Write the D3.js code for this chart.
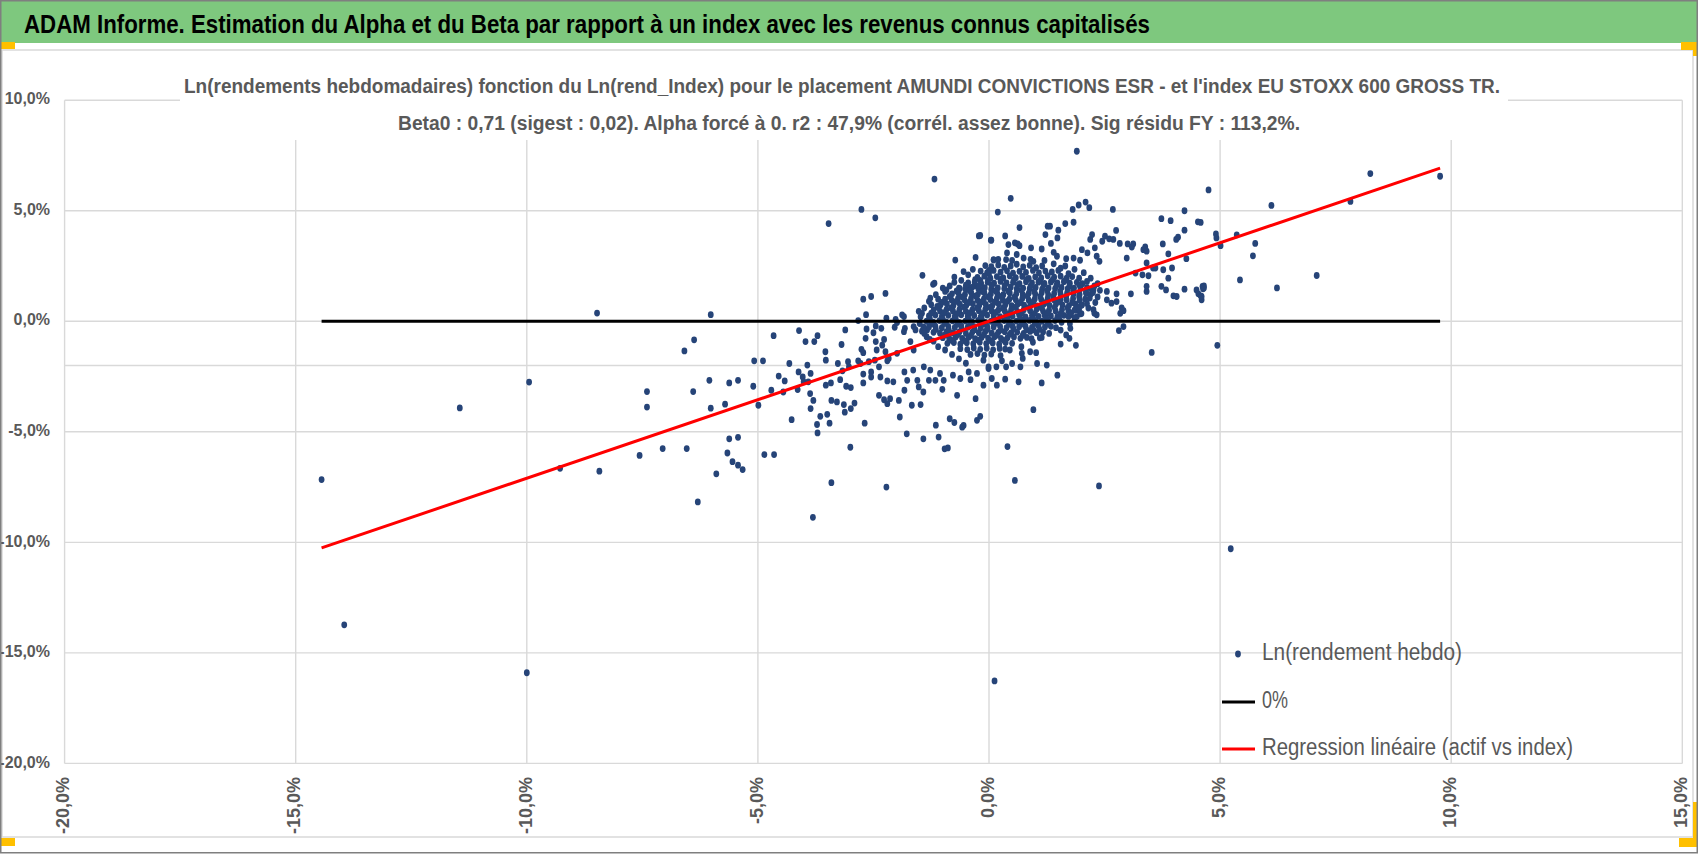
<!DOCTYPE html>
<html>
<head>
<meta charset="utf-8">
<script src="https://cdn.jsdelivr.net/npm/d3@7"></script>
<style>
  body { margin: 0; background: #fff; }
  svg { display: block; }
</style>
</head>
<body>
<svg id="chart" width="1698" height="855"></svg>
<script>
// ---- data (percent units) ----
const headerTitle = "ADAM Informe. Estimation du Alpha et du Beta par rapport à un index avec les revenus connus capitalisés";
const chartTitleLines = [
  "Ln(rendements hebdomadaires) fonction du Ln(rend_Index) pour le placement AMUNDI CONVICTIONS ESR -  et l'index EU STOXX 600 GROSS TR.",
  "Beta0 : 0,71 (sigest : 0,02). Alpha forcé à 0. r2 : 47,9% (corrél. assez bonne). Sig résidu FY : 113,2%."
];
const xTicks = [-20, -15, -10, -5, 0, 5, 10, 15];
const yTicks = [10, 5, 0, -5, -10, -15, -20];
const beta0 = 0.71;
const xAxisCrossing = -2;
const legendLabels = ["Ln(rendement hebdo)", "0%", "Regression linéaire (actif vs index)"];

// scattered weeks, read point by point
const tailPoints = [
  [-14.44,-7.16],[-13.95,-13.73],[-11.45,-3.92],[-9.95,-2.75],[-10.0,-15.9],[-9.28,-6.65],[-8.43,-6.78],[-8.48,0.37],
  [-6.02,0.30],[-6.38,-0.84],[-6.59,-1.34],[-6.05,-2.67],[-5.62,-2.79],[-5.43,-2.67],[-7.4,-3.18],[-7.4,-3.88],
  [-6.4,-3.18],[-6.02,-3.93],[-5.71,-3.75],[-7.56,-6.07],[-7.06,-5.76],[-6.54,-5.76],[-5.62,-5.32],[-5.43,-5.25],
  [-5.66,-5.96],[-5.55,-6.35],[-5.43,-6.51],[-5.33,-6.71],[-5.9,-6.9],[-6.3,-8.17],
  [-4.86,-6.03],[-4.65,-6.03],[-3.81,-8.87],[-3.41,-7.3],[-2.22,-7.5],[0.56,-7.2],[2.38,-7.45],[0.12,-16.27],[5.23,-10.29],
  [-3.47,4.42],[-2.76,5.06],[-2.46,4.68],[0.19,4.94],[-0.22,3.86],[0.04,3.67],[-0.73,2.77],[-0.29,2.89],[0.1,2.77],
  [0.0,2.3],[0.0,2.15],[-1.44,2.08],[-1.21,1.67],[-1.18,1.72],[-0.92,1.42],[-0.75,1.76],[-0.63,1.48],[-0.47,1.58],
  [-0.32,1.6],[-0.19,1.85],[-0.13,1.45],[-2.72,1.0],[-2.55,1.12],[-2.24,1.26],[-1.27,1.05],[-1.12,0.67],
  [-2.33,-0.32],[-2.04,-0.27],[-1.82,-0.32],[-1.63,-0.24],
  [0.47,5.56],[1.81,5.06],[1.94,5.26],[2.09,5.39],[2.17,5.14],[2.68,5.06],[4.75,5.94],[4.23,5.0],[3.73,4.64],
  [3.93,4.55],[4.52,4.5],[4.23,4.12],[4.05,3.7],[4.09,3.8],[4.91,3.95],[4.92,3.77],[5.01,3.42],[3.76,3.5],[3.88,3.05],
  [4.27,2.83],[3.96,2.41],[3.77,2.33],[3.6,2.41],[3.88,1.95],[3.73,1.58],[3.83,1.42],[3.99,1.15],[4.06,1.12],[4.23,1.45],
  [4.49,1.42],[4.62,1.58],[4.63,1.47],[4.58,1.15],[4.6,0.97],[4.53,1.24],[3.38,3.36],[3.41,3.17],[3.34,3.24],[3.12,3.5],
  [3.0,3.5],[3.09,3.36],[2.83,3.52],[2.75,4.11],[2.98,2.86],[3.17,2.18],[3.41,2.64],[3.32,2.1],[3.45,2.06],[3.55,2.41],
  [3.07,1.24],[3.41,1.58],[3.41,1.35],[2.76,1.24],[2.55,1.35],[2.26,1.42],[2.51,3.85],[2.6,3.73],[2.69,3.7],[2.45,3.62],
  [2.23,3.92],[2.19,3.7],[2.01,3.24],[2.13,3.09],[2.29,3.32],[2.33,2.94],[2.39,2.71],[1.97,2.76],[1.83,2.86],[1.67,2.83],
  [1.48,3.77],[1.32,4.3],[1.27,4.3],[1.5,4.12],[1.65,4.42],[1.83,4.48],[0.66,4.24],[0.35,3.86],[0.56,3.55],[0.62,3.5],
  [0.66,3.42],[0.42,3.47],[0.05,3.67],[-0.19,3.88],[0.1,2.79],[0.39,3.09],[0.37,2.79],[0.6,3.02],[0.91,3.32],[1.14,3.27],
  [1.22,3.92],[1.34,3.52],[1.4,3.12],[1.47,2.94],[0.96,2.71],[0.75,2.86],[2.87,0.61],[2.91,0.48],[2.76,0.89],[2.65,0.82],
  [2.55,0.97],[2.33,0.29],[2.26,0.52],[2.01,0.74],[1.9,0.52],[1.76,0.29],
  [-4.66,-0.65],[-4.11,-0.42],[-3.97,-0.92],[-3.78,-0.92],[-3.71,-0.65],[-5.08,-1.79],[-4.89,-1.79],[-5.1,-2.94],[-4.99,-3.8],
  [-4.71,-3.12],[-4.55,-2.48],[-4.42,-2.7],[-4.32,-1.91],[-4.27,-4.45],[-4.45,-3.2],[-4.14,-3.09],[-4.12,-2.29],[-4.03,-2.52],
  [-4.01,-2.74],[-3.93,-1.98],[-3.91,-2.74],[-3.86,-2.36],[-3.87,-3.27],[-3.8,-3.58],[-3.86,-3.95],[-3.65,-4.3],[-3.72,-4.67],
  [-3.71,-5.05],[-3.54,-1.38],[-3.53,-1.76],[-3.53,-2.89],[-3.42,-2.79],[-3.41,-3.58],[-3.5,-4.21],[-3.45,-4.61],[-3.29,-3.65],
  [-3.27,-1.91],[-3.19,-1.05],[-3.17,-2.24],[-3.22,-2.64],[-3.14,-3.77],[-3.12,-4.11],[-3.11,-0.39],[-3.05,-1.83],[-3.03,-2.06],
  [-3.09,-2.94],[-2.99,-3.0],[-2.99,-3.95],[-2.91,-3.7],[-3.0,-5.7],[-2.83,0.03],[-2.66,0.3],[-2.65,-0.35],[-2.67,-0.77],
  [-2.76,-1.27],[-2.72,-1.42],[-2.83,-1.79],[-2.78,-1.91],[-2.72,-2.39],[-2.69,-4.61],[-2.72,-2.79],[-2.6,-1.83],[-2.55,-2.29],
  [-2.55,-2.52],[-2.5,-0.52],[-2.45,-0.21],[-2.45,-0.92],[-2.43,-1.3],[-2.47,-1.76],[-2.38,-2.06],[-2.38,-3.35],[-2.35,-2.52],
  [-2.31,-1.08],[-2.27,-0.82],[-2.22,0.14],[-2.24,-1.38],[-2.2,-1.79],[-2.2,-2.7],[-2.27,-3.55],[-2.14,-3.5],[-2.2,-3.73],
  [-2.17,-1.68],[-2.07,-2.74],[-2.02,0.09],[-1.99,-0.06],[-1.99,-1.45],[-1.95,-3.58],[-1.93,-4.33],[-1.88,0.29],[-1.84,0.21],
  [-1.84,-0.47],[-1.83,-2.29],[-1.83,-3.12],[-1.77,-2.67],[-1.78,-5.09],[-1.7,-0.92],[-1.67,-3.8],[-1.64,-2.21],[-1.63,-1.3],
  [-1.59,-0.39],[-1.55,-2.67],[-1.52,-2.97],[-1.48,-3.77],[-1.45,0.36],[-1.42,-5.32],[-1.42,-3.2],[-1.41,-2.06],[-1.34,-0.39],
  [-1.3,-2.67],[-1.27,-2.21],[-1.16,-2.67],[-1.15,-4.7],[-1.09,-5.24],[-1.06,-2.36],[-1.01,-3.08],[-0.98,-2.67],[-0.96,-5.77],
  [-0.89,-5.73],[-0.85,-4.41],[-0.78,-2.44],[-0.75,-4.58],[-0.69,-3.35],[-0.62,-2.59],[-0.58,-4.79],[-0.55,-4.71],[-0.44,-2.29],
  [-0.4,-2.64],[-0.29,-3.5],[-0.26,-2.36],[-0.26,-4.48],[-0.19,-4.3],[-0.12,-2.89],[0.06,-2.59],[0.17,-2.89],[-0.01,-2.06],[-0.12,-1.76],
  [0.35,-2.62],[0.4,-5.67],[0.64,-2.74],[0.96,-4.0],[1.14,-2.79],[1.48,-2.44],[1.25,-1.98],[1.04,-1.91],[0.68,-2.06],[0.5,-1.91],
  [0.37,-2.06],[0.16,-2.06],[-0.01,-2.14],[0.28,-1.79],[0.73,-1.68],[0.71,-1.45],[0.89,-1.38],[1.02,-1.42],[1.55,-1.03],[1.88,-1.09],
  [1.74,-0.77],[1.67,-0.62],[1.76,-0.32],[1.14,-0.73],[0.96,-0.39],[2.81,-0.42],[2.91,-0.24],[2.84,0.36],[2.89,0.48],[3.52,-1.41],
  [4.94,-1.09],[2.28,0.36],[1.97,0.33],[1.9,0.21],
  [6.11,5.24],[7.82,5.42],[8.25,6.68],[9.76,6.56],[4.58,4.47],[5.36,3.91],[5.76,3.52],[5.71,2.96],[5.43,1.87],[6.23,1.51],
  [7.09,2.07],[4.65,1.6],[4.65,1.5],[4.6,1.12],[-1.18,6.43],[1.9,7.69]
];

// dense centre of the cloud, placed row by row (too packed to read one by one)
const corePoints = [
  [-0.08,2.52],[0.05,2.47],[0.2,2.55],[0.33,2.44],[0.47,2.5],[0.6,2.58],[0.74,2.46],[0.88,2.53],[1.02,2.42],[1.15,2.5],
  [-0.18,2.27],[-0.04,2.2],[0.1,2.3],[0.25,2.22],[0.39,2.28],[0.52,2.18],[0.66,2.26],[0.8,2.21],[0.95,2.3],[1.08,2.19],[1.22,2.27],[1.36,2.23],[1.5,2.3],
  [-0.25,1.98],[-0.1,2.04],[0.03,1.95],[0.17,2.02],[0.31,1.96],[0.45,2.05],[0.58,1.97],[0.72,2.03],[0.86,1.94],[1.0,2.01],[1.13,1.96],[1.27,2.06],[1.41,1.99],[1.55,2.04],[1.68,1.95],[1.8,2.02],
  [-0.45,1.74],[-0.31,1.78],[-0.17,1.71],[-0.03,1.77],[0.11,1.72],[0.25,1.8],[0.38,1.73],[0.52,1.76],[0.66,1.7],[0.8,1.79],[0.93,1.74],[1.07,1.77],[1.2,1.71],[1.34,1.78],[1.48,1.73],[1.62,1.79],[1.75,1.72],[1.9,1.76],[2.02,1.7],
  [-0.65,1.5],[-0.51,1.46],[-0.37,1.53],[-0.23,1.47],[-0.09,1.52],[0.05,1.45],[0.19,1.51],[0.33,1.48],[0.47,1.54],[0.6,1.46],[0.74,1.5],[0.88,1.47],[1.01,1.53],[1.15,1.45],[1.29,1.51],[1.43,1.48],[1.57,1.53],[1.7,1.46],[1.84,1.5],[1.98,1.47],[2.12,1.52],[2.22,1.45],
  [-0.8,1.24],[-0.66,1.28],[-0.52,1.21],[-0.38,1.27],[-0.24,1.22],[-0.1,1.29],[0.04,1.23],[0.18,1.26],[0.31,1.2],[0.45,1.28],[0.59,1.24],[0.73,1.21],[0.86,1.27],[1.0,1.23],[1.14,1.29],[1.28,1.2],[1.41,1.26],[1.55,1.22],[1.69,1.28],[1.83,1.24],[1.96,1.21],[2.1,1.27],[2.2,1.22],
  [-0.95,1.0],[-0.81,0.96],[-0.67,1.03],[-0.53,0.97],[-0.39,1.02],[-0.25,0.95],[-0.11,1.01],[0.03,0.98],[0.17,1.04],[0.3,0.96],[0.44,1.0],[0.58,0.97],[0.72,1.03],[0.86,0.95],[0.99,1.01],[1.13,0.98],[1.27,1.04],[1.41,0.96],[1.55,1.0],[1.68,0.97],[1.82,1.03],[1.96,0.95],[2.08,1.0],
  [-1.05,0.74],[-0.91,0.78],[-0.77,0.71],[-0.63,0.77],[-0.49,0.72],[-0.35,0.79],[-0.21,0.73],[-0.07,0.76],[0.07,0.7],[0.21,0.78],[0.35,0.74],[0.49,0.71],[0.62,0.77],[0.76,0.73],[0.9,0.79],[1.04,0.7],[1.18,0.76],[1.31,0.72],[1.45,0.78],[1.59,0.74],[1.73,0.71],[1.87,0.77],[2.0,0.73],
  [-1.2,0.5],[-1.06,0.46],[-0.92,0.53],[-0.78,0.47],[-0.64,0.52],[-0.5,0.45],[-0.36,0.51],[-0.22,0.48],[-0.08,0.54],[0.06,0.46],[0.2,0.5],[0.34,0.47],[0.48,0.53],[0.61,0.45],[0.75,0.51],[0.89,0.48],[1.03,0.54],[1.17,0.46],[1.3,0.5],[1.44,0.47],[1.58,0.53],[1.72,0.45],[1.85,0.5],
  [-1.3,0.24],[-1.16,0.28],[-1.02,0.21],[-0.88,0.27],[-0.74,0.22],[-0.6,0.29],[-0.46,0.23],[-0.32,0.26],[-0.18,0.2],[-0.04,0.28],[0.1,0.24],[0.24,0.21],[0.37,0.27],[0.51,0.23],[0.65,0.29],[0.79,0.2],[0.93,0.26],[1.07,0.22],[1.2,0.28],[1.34,0.24],[1.48,0.21],[1.62,0.27],[1.72,0.22],
  [-1.35,0.0],[-1.21,-0.04],[-1.07,0.03],[-0.93,-0.03],[-0.79,0.02],[-0.65,-0.05],[-0.51,0.01],[-0.37,-0.02],[-0.23,0.04],[-0.09,-0.04],[0.05,0.0],[0.19,-0.03],[0.33,0.03],[0.46,-0.05],[0.6,0.01],[0.74,-0.02],[0.88,0.04],[1.02,-0.04],[1.15,0.0],[1.29,-0.03],[1.43,0.03],[1.57,-0.05],
  [-1.3,-0.26],[-1.16,-0.22],[-1.02,-0.29],[-0.88,-0.23],[-0.74,-0.28],[-0.6,-0.21],[-0.46,-0.27],[-0.32,-0.24],[-0.18,-0.3],[-0.04,-0.22],[0.1,-0.26],[0.24,-0.23],[0.38,-0.29],[0.51,-0.21],[0.65,-0.25],[0.79,-0.22],[0.93,-0.28],[1.07,-0.2],[1.21,-0.26],[1.34,-0.23],[1.45,-0.29],
  [-1.2,-0.5],[-1.06,-0.54],[-0.92,-0.47],[-0.78,-0.53],[-0.64,-0.48],[-0.5,-0.55],[-0.36,-0.49],[-0.22,-0.52],[-0.08,-0.46],[0.06,-0.54],[0.2,-0.5],[0.34,-0.47],[0.48,-0.53],[0.61,-0.49],[0.75,-0.55],[0.89,-0.46],[1.03,-0.52],[1.17,-0.48],
  [-1.0,-0.74],[-0.86,-0.78],[-0.72,-0.71],[-0.58,-0.77],[-0.44,-0.72],[-0.3,-0.79],[-0.16,-0.73],[-0.02,-0.76],[0.12,-0.7],[0.26,-0.78],[0.4,-0.74],[0.54,-0.71],[0.68,-0.77],[0.82,-0.73],[0.92,-0.79],
  [-0.9,-1.0],[-0.76,-0.96],[-0.62,-1.03],[-0.48,-0.97],[-0.34,-1.02],[-0.2,-0.95],[-0.06,-1.01],[0.08,-0.98],[0.22,-1.04],[0.36,-0.96],[0.5,-1.0],
  [-0.62,-1.24],[-0.47,-1.28],[-0.33,-1.21],[-0.19,-1.27],[-0.05,-1.22],[0.09,-1.29],[0.23,-1.23],[0.35,-1.26],
  [-0.4,-1.5],[-0.25,-1.46],[-0.1,-1.53],[0.05,-1.48],
  [-1.4,0.6],[-1.3,0.9],[-1.15,1.2],[-0.95,1.35],[-0.85,1.6],[-0.6,1.85],[-0.45,2.1],[-0.35,2.35],[-1.5,-0.1],[-1.45,-0.45],
  [-1.35,-0.7],[-1.2,-0.9],[-1.1,-1.15],[-0.95,-1.3],[-0.8,-1.5],[-0.65,-1.7],[-0.5,-1.9],[0.25,-1.55],[0.45,-1.3],[0.7,-1.15],
  [0.95,-0.95],[1.1,-0.75],[1.3,-0.55],[1.55,-0.4],[1.75,-0.1],[1.85,0.15],[2.0,0.35],[2.15,0.6],[2.3,0.85],[2.35,1.1],
  [2.4,1.4],[2.35,1.7],[2.2,1.95],[2.05,2.2],[1.85,2.35],[1.65,2.5],[1.4,2.6],[1.2,2.75],[0.9,2.8],[0.5,2.75],[0.2,2.8]
];

// second, staggered pass over the packed middle so it reads as a solid blob
const coreFillPoints = [
  [-0.3,1.88],[-0.02,1.85],[0.26,1.9],[0.54,1.86],[0.82,1.89],[1.1,1.84],[1.38,1.88],[1.66,1.86],
  [-0.5,1.63],[-0.22,1.6],[0.06,1.64],[0.34,1.61],[0.62,1.63],[0.9,1.59],[1.18,1.64],[1.46,1.62],[1.74,1.6],[1.96,1.63],
  [-0.7,1.37],[-0.42,1.39],[-0.14,1.35],[0.14,1.38],[0.42,1.36],[0.7,1.4],[0.98,1.35],[1.26,1.38],[1.54,1.36],[1.82,1.39],[2.1,1.35],
  [-0.85,1.12],[-0.57,1.1],[-0.29,1.14],[-0.01,1.11],[0.27,1.13],[0.55,1.09],[0.83,1.14],[1.11,1.12],[1.39,1.1],[1.67,1.13],[1.95,1.11],
  [-1.0,0.87],[-0.72,0.89],[-0.44,0.85],[-0.16,0.88],[0.12,0.86],[0.4,0.9],[0.68,0.85],[0.96,0.88],[1.24,0.86],[1.52,0.89],[1.8,0.85],
  [-1.1,0.62],[-0.82,0.6],[-0.54,0.64],[-0.26,0.61],[0.02,0.63],[0.3,0.59],[0.58,0.64],[0.86,0.62],[1.14,0.6],[1.42,0.63],[1.7,0.61],[1.92,0.64],
  [-1.25,0.37],[-0.97,0.39],[-0.69,0.35],[-0.41,0.38],[-0.13,0.36],[0.15,0.4],[0.43,0.35],[0.71,0.38],[0.99,0.36],[1.27,0.39],[1.55,0.35],
  [-1.28,0.12],[-1.0,0.1],[-0.72,0.14],[-0.44,0.11],[-0.16,0.13],[0.12,0.09],[0.4,0.14],[0.68,0.12],[0.96,0.1],[1.24,0.13],[1.52,0.11],
  [-1.25,-0.12],[-0.97,-0.1],[-0.69,-0.14],[-0.41,-0.11],[-0.13,-0.13],[0.15,-0.09],[0.43,-0.14],[0.71,-0.12],[0.99,-0.1],[1.27,-0.13],
  [-1.15,-0.37],[-0.87,-0.39],[-0.59,-0.35],[-0.31,-0.38],[-0.03,-0.36],[0.25,-0.4],[0.53,-0.35],[0.81,-0.38],[1.09,-0.36],
  [-0.95,-0.62],[-0.67,-0.6],[-0.39,-0.64],[-0.11,-0.61],[0.17,-0.63],[0.45,-0.59],[0.73,-0.64],
  [-0.8,-0.87],[-0.52,-0.89],[-0.24,-0.85],[0.04,-0.88],[0.32,-0.86],
  [1.78,0.38],[1.95,0.55],[2.12,0.8],[2.18,1.05],[2.25,1.3],[2.28,1.6],[2.12,1.8],[1.95,1.95],[1.72,2.15],[1.55,2.4],
  [-1.48,0.2],[-1.52,0.45],[-1.42,-0.25],[-1.4,-0.55],[-1.28,-0.82],[-1.25,0.75],[-1.1,1.0],[-1.0,1.5],[-0.75,2.0],[-0.55,2.25]
];

const weeklyPoints = tailPoints.concat(corePoints, coreFillPoints);

// ---- drawing ----
const W = 1698, H = 855;
const fontNarrow = '"Liberation Sans Narrow", "Liberation Sans", Arial, sans-serif';
const grey = "#595959";
const dotColor = "#264478";

const fr = d3.formatLocale({decimal: ",", thousands: " ", grouping: [3], currency: ["", " €"], minus: "-"});
const pct = d => fr.format(".1f")(d) + "%";

let x = d3.scaleLinear().domain([-20, 15]).range([64.6, 1682.3]);
let y = d3.scaleLinear().domain([-20, 10]).range([763.4, 100.2]);

let svg = d3.select("#chart");

// header band
svg.append("rect").attr("x", 0).attr("y", 0).attr("width", W).attr("height", 43).attr("fill", "#7ec87e");
svg.append("text")
  .attr("x", 24).attr("y", 33)
  .attr("font-family", fontNarrow).attr("font-size", 26).attr("font-weight", "bold")
  .attr("textLength", 1126).attr("lengthAdjust", "spacingAndGlyphs")
  .attr("fill", "#000")
  .text(headerTitle);

// chart area frame
svg.append("rect").attr("x", 2).attr("y", 50).attr("width", 1691).attr("height", 787)
  .attr("fill", "#fff").attr("stroke", "#d9d9d9").attr("stroke-width", 1.5);

// gridlines
let grid = svg.append("g").attr("class", "grid");
grid.selectAll("line.v").data(xTicks).enter().append("line")
  .attr("class", "v")
  .attr("x1", d => x(d)).attr("x2", d => x(d))
  .attr("y1", y(10)).attr("y2", y(-20))
  .attr("stroke", "#d9d9d9").attr("stroke-width", 1.4);
grid.selectAll("line.h").data(yTicks).enter().append("line")
  .attr("class", "h")
  .attr("x1", x(-20)).attr("x2", x(15))
  .attr("y1", d => y(d)).attr("y2", d => y(d))
  .attr("stroke", "#d9d9d9").attr("stroke-width", 1.4);
// horizontal axis line crosses at -2%
grid.append("line")
  .attr("x1", x(-20)).attr("x2", x(15))
  .attr("y1", y(xAxisCrossing)).attr("y2", y(xAxisCrossing))
  .attr("stroke", "#d9d9d9").attr("stroke-width", 1.4);

// axis labels
svg.append("g").selectAll("text").data(yTicks).enter().append("text")
  .attr("x", 50).attr("y", d => y(d))
  .attr("text-anchor", "end").attr("dominant-baseline", "middle")
  .attr("font-family", fontNarrow).attr("font-size", 16).attr("font-weight", "bold")
  .attr("fill", grey)
  .text(pct);

svg.append("g").selectAll("text").data(xTicks).enter().append("text")
  .attr("transform", d => `translate(${x(d)},777) rotate(-90)`)
  .attr("text-anchor", "end").attr("dominant-baseline", "middle")
  .attr("font-family", fontNarrow).attr("font-size", 18).attr("font-weight", "bold")
  .attr("fill", grey)
  .text(pct);

// chart title on a white box
svg.append("rect").attr("x", 180).attr("y", 58).attr("width", 1328).attr("height", 82).attr("fill", "#fff");
let titleWidths = [1316, 902];
let titleCentres = [842, 849];
svg.append("g").selectAll("text").data(chartTitleLines).enter().append("text")
  .attr("x", (d, i) => titleCentres[i]).attr("y", (d, i) => 93 + i * 37)
  .attr("text-anchor", "middle")
  .attr("font-family", fontNarrow).attr("font-size", 20).attr("font-weight", "bold")
  .attr("textLength", (d, i) => titleWidths[i]).attr("lengthAdjust", "spacingAndGlyphs")
  .attr("fill", grey)
  .text(d => d);

// series
let xExtent = d3.extent(weeklyPoints, d => d[0]);

svg.append("g").selectAll("ellipse").data(weeklyPoints).enter().append("ellipse")
  .attr("cx", d => x(d[0])).attr("cy", d => y(d[1]))
  .attr("rx", 2.9).attr("ry", 3.4)
  .attr("fill", dotColor);

svg.append("line")
  .attr("x1", x(xExtent[0])).attr("x2", x(xExtent[1]))
  .attr("y1", y(0)).attr("y2", y(0))
  .attr("stroke", "#000").attr("stroke-width", 3);

svg.append("line")
  .attr("x1", x(xExtent[0])).attr("x2", x(xExtent[1]))
  .attr("y1", y(beta0 * xExtent[0])).attr("y2", y(beta0 * xExtent[1]))
  .attr("stroke", "#ff0000").attr("stroke-width", 3);

// legend
let legend = svg.append("g");
let legendY = [654, 702, 749];
let legendWidths = [200, 26, 311];
legend.append("ellipse").attr("cx", 1238).attr("cy", legendY[0]).attr("rx", 2.9).attr("ry", 3.4).attr("fill", dotColor);
legend.append("line").attr("x1", 1222).attr("x2", 1255).attr("y1", legendY[1]).attr("y2", legendY[1])
  .attr("stroke", "#000").attr("stroke-width", 3);
legend.append("line").attr("x1", 1222).attr("x2", 1255).attr("y1", legendY[2]).attr("y2", legendY[2])
  .attr("stroke", "#ff0000").attr("stroke-width", 3);
legend.selectAll("text").data(legendLabels).enter().append("text")
  .attr("x", 1262).attr("y", (d, i) => legendY[i])
  .attr("dominant-baseline", "middle")
  .attr("font-family", fontNarrow).attr("font-size", 23)
  .attr("textLength", (d, i) => legendWidths[i]).attr("lengthAdjust", "spacingAndGlyphs")
  .attr("fill", grey)
  .text(d => d);

// selection handles and outer border
let handles = [[0, 42, 15, 7], [1681, 42, 16, 8], [1693, 42, 4, 14], [0, 838, 15, 8], [1679, 838, 18, 9], [1693, 802, 4, 45]];
svg.append("g").selectAll("rect").data(handles).enter().append("rect")
  .attr("x", d => d[0]).attr("y", d => d[1]).attr("width", d => d[2]).attr("height", d => d[3])
  .attr("fill", "#ffc000");
svg.append("rect").attr("x", 0.75).attr("y", 0.75).attr("width", W - 1.5).attr("height", H - 3)
  .attr("fill", "none").attr("stroke", "#7f7f7f").attr("stroke-width", 1.5);
</script>
</body>
</html>
